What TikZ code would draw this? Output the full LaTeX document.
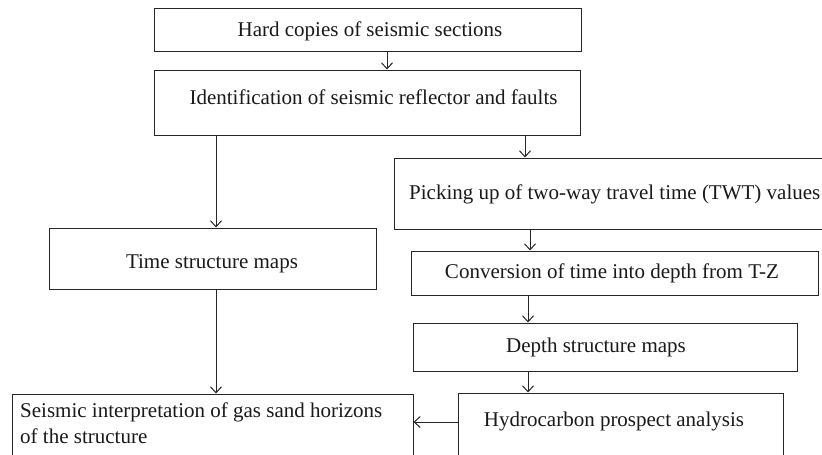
\documentclass[tikz,border=0pt]{standalone}
\usepackage{fontspec}
\setmainfont{Liberation Serif}
\usetikzlibrary{arrows.meta}
\begin{document}
\begin{tikzpicture}[x=1pt,y=-1pt,
  box/.style={draw=black!85,line width=1pt,inner sep=0pt,rectangle},
  lbl/.style={anchor=base,inner sep=0pt,text=black!90,font=\fontsize{21}{25}\selectfont},
  arr/.style={draw=black!85,line width=1pt,-{Straight Barb[length=6pt,width=11pt,line width=1pt]}}]
\useasboundingbox (0,0) rectangle (822,455);
% boxes
\node[box,minimum width=427pt,minimum height=43pt] (hard) at (367.5,29.5) {};
\node[box,minimum width=426pt,minimum height=65pt] (ident) at (367,102.5) {};
\node[box,minimum width=436pt,minimum height=71pt] (pick) at (612,193.5) {};
\node[box,minimum width=327pt,minimum height=61pt] (time) at (212.5,258.5) {};
\node[box,minimum width=407pt,minimum height=44pt] (conv) at (614.5,273) {};
\node[box,minimum width=384pt,minimum height=48pt] (depth) at (605,347) {};
\node[box,minimum width=325pt,minimum height=72pt] (hydro) at (620.5,429) {};
\node[box,minimum width=401pt,minimum height=71pt] (seis) at (212.5,429.5) {};
% texts
\node[lbl] (thard) at (370,36) {Hard copies of seismic sections};
\node[lbl] (tident) at (373.5,104) {Identification of seismic reflector and faults};
\node[lbl,anchor=base west] (tpick) at (409,199) {Picking up of two-way travel time (TWT) values};
\node[lbl] (ttime) at (212,268) {Time structure maps};
\node[lbl] (tconv) at (612,278) {Conversion of time into depth from T-Z};
\node[lbl] (tdepth) at (596,352) {Depth structure maps};
\node[lbl] (thydro) at (614,426) {Hydrocarbon prospect analysis};
\node[lbl,anchor=base west] (tseis1) at (20,417) {Seismic interpretation of gas sand horizons};
\node[lbl,anchor=base west] (tseis2) at (20,443) {of the structure};
% connector positions
\coordinate (xA) at (387,0);
\coordinate (xB) at (216,0);
\coordinate (xC) at (525,0);
\coordinate (xD) at (530,0);
\coordinate (xE) at (528,0);
\coordinate (yF) at (0,422);
% connectors
\draw[arr] (hard.south -| xA) -- (ident.north -| xA);
\draw[arr] (ident.south -| xB) -- (time.north -| xB);
\draw[arr] (ident.south -| xC) -- (pick.north -| xC);
\draw[arr] (pick.south -| xD) -- (conv.north -| xD);
\draw[arr] (conv.south -| xE) -- (depth.north -| xE);
\draw[arr] (depth.south -| xE) -- (hydro.north -| xE);
\draw[arr] (time.south -| xB) -- (seis.north -| xB);
\draw[arr] (hydro.west |- yF) -- (seis.east |- yF);
\end{tikzpicture}
\end{document}
